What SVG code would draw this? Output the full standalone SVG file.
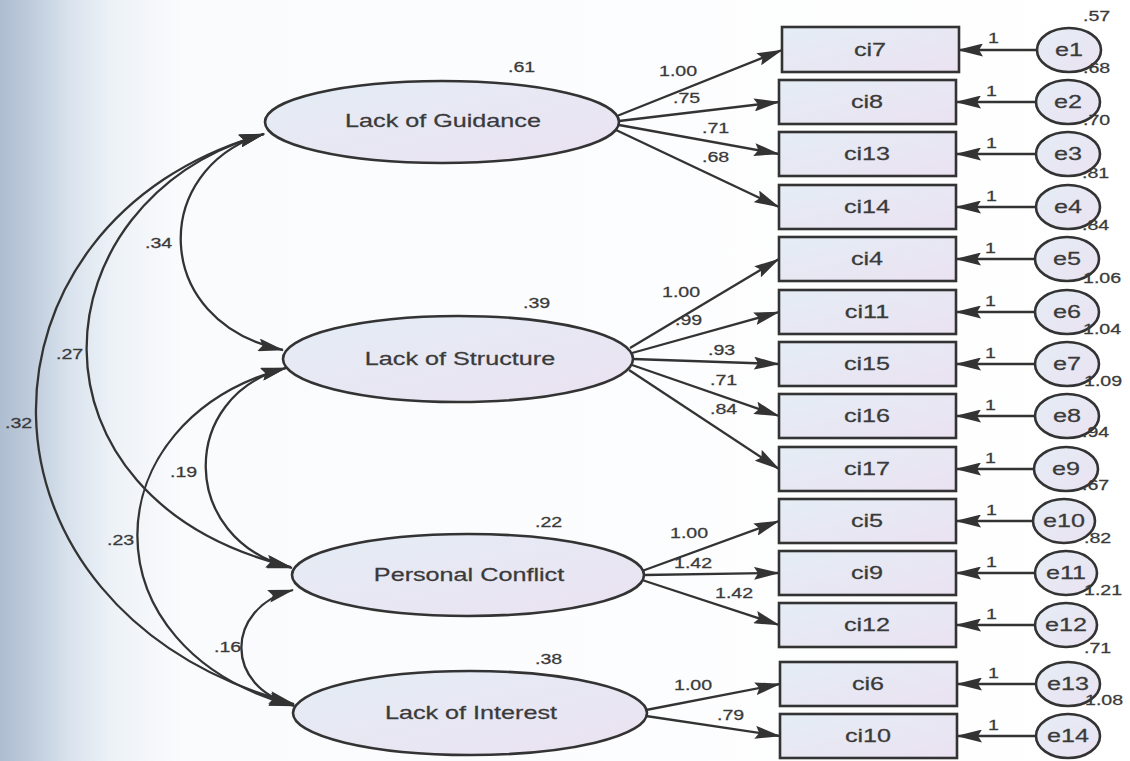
<svg xmlns="http://www.w3.org/2000/svg" width="1130" height="761" viewBox="0 0 1130 761">
  <defs>
    <linearGradient id="bg" x1="0" y1="0" x2="1" y2="0">
      <stop offset="0" stop-color="#aebdd0"/>
      <stop offset="0.025" stop-color="#bdcadb"/>
      <stop offset="0.06" stop-color="#d8e2ed"/>
      <stop offset="0.1" stop-color="#edf2f7"/>
      <stop offset="0.16" stop-color="#fafbfd"/>
      <stop offset="1" stop-color="#ffffff"/>
    </linearGradient>
    <linearGradient id="fillLat" x1="0" y1="0" x2="1" y2="1">
      <stop offset="0" stop-color="#e4edf5"/>
      <stop offset="1" stop-color="#ebe2f1"/>
    </linearGradient>
    <marker id="ah" markerWidth="26" markerHeight="13" refX="25" refY="6.5" orient="auto-start-reverse" markerUnits="userSpaceOnUse">
      <path d="M0,0 L26,6.5 L0,13 L4,6.5 z" fill="#333"/>
    </marker>
    <style>
      .lat { fill: url(#fillLat); stroke: #333; stroke-width: 2.6; }
      .obs { fill: url(#fillLat); stroke: #333; stroke-width: 2.6; }
      .err { fill: url(#fillLat); stroke: #333; stroke-width: 2.6; }
      .edge { fill: none; stroke: #333; stroke-width: 2.3; marker-end: url(#ah); }
      .cov { fill: none; stroke: #333; stroke-width: 2.3; marker-start: url(#ah); marker-end: url(#ah); }
      text { font-family: "Liberation Sans", Arial, sans-serif; fill: #3a3a3a; stroke: #3a3a3a; stroke-width: 0.25; }
      .lbl { font-size: 18px; text-anchor: middle; }
      .num { font-size: 14px; }
    </style>
  </defs>

  <rect x="0" y="0" width="1130" height="761" fill="url(#bg)"/>

  <!-- connectors -->
  <g id="connectors">
    <!-- covariances between factors -->
    <path class="cov" d="M264,134 C150,168 150,322 283,350"/>
    <path class="cov" d="M264,134 C33,200 13,500 291,567"/>
    <path class="cov" d="M264,134 C-40,220 -50,610 294,704"/>
    <path class="cov" d="M286,368 C178,395 178,540 292,568"/>
    <path class="cov" d="M286,368 C90,420 83,650 294,706"/>
    <path class="cov" d="M293,590 C224,608 224,688 294,705"/>

    <!-- loadings: Lack of Guidance -->
    <path class="edge" d="M617,116 L782,50"/>
    <path class="edge" d="M619,121 L779,102"/>
    <path class="edge" d="M619,125 L779,154"/>
    <path class="edge" d="M616,130 L779,207"/>
    <!-- loadings: Lack of Structure -->
    <path class="edge" d="M630,348 L779,259"/>
    <path class="edge" d="M632,353 L779,312"/>
    <path class="edge" d="M633,359 L779,364"/>
    <path class="edge" d="M632,365 L779,416"/>
    <path class="edge" d="M629,370 L779,469"/>
    <!-- loadings: Personal Conflict -->
    <path class="edge" d="M642,571 L779,521"/>
    <path class="edge" d="M644,575 L779,573"/>
    <path class="edge" d="M642,580 L779,625"/>
    <!-- loadings: Lack of Interest -->
    <path class="edge" d="M646,710 L780,684"/>
    <path class="edge" d="M646,716 L780,736"/>

    <!-- error terms -->
    <path class="edge" d="M1037,50 L958,50"/>
    <path class="edge" d="M1036,102 L956,102"/>
    <path class="edge" d="M1036,154 L956,154"/>
    <path class="edge" d="M1036,207 L956,207"/>
    <path class="edge" d="M1036,259 L956,259"/>
    <path class="edge" d="M1036,312 L956,312"/>
    <path class="edge" d="M1036,364 L956,364"/>
    <path class="edge" d="M1036,416 L956,416"/>
    <path class="edge" d="M1035,469 L956,469"/>
    <path class="edge" d="M1033,521 L956,521"/>
    <path class="edge" d="M1035,573 L956,573"/>
    <path class="edge" d="M1035,625 L956,625"/>
    <path class="edge" d="M1037,684 L957,684"/>
    <path class="edge" d="M1037,736 L957,736"/>
  </g>

  <!-- connector labels (covariances, loadings, fixed paths) -->
  <g id="edge-labels">
    <text class="num" transform="translate(145 248) scale(1.4 1)">.34</text>
    <text class="num" transform="translate(56 359) scale(1.4 1)">.27</text>
    <text class="num" transform="translate(5 428) scale(1.4 1)">.32</text>
    <text class="num" transform="translate(170 477) scale(1.4 1)">.19</text>
    <text class="num" transform="translate(107 545) scale(1.4 1)">.23</text>
    <text class="num" transform="translate(214 652) scale(1.4 1)">.16</text>

    <text class="num" transform="translate(659 76) scale(1.4 1)">1.00</text>
    <text class="num" transform="translate(673 103) scale(1.4 1)">.75</text>
    <text class="num" transform="translate(702 133) scale(1.4 1)">.71</text>
    <text class="num" transform="translate(702 162) scale(1.4 1)">.68</text>

    <text class="num" transform="translate(662 297) scale(1.4 1)">1.00</text>
    <text class="num" transform="translate(675 325) scale(1.4 1)">.99</text>
    <text class="num" transform="translate(708 355) scale(1.4 1)">.93</text>
    <text class="num" transform="translate(710 385) scale(1.4 1)">.71</text>
    <text class="num" transform="translate(710 414) scale(1.4 1)">.84</text>

    <text class="num" transform="translate(670 538) scale(1.4 1)">1.00</text>
    <text class="num" transform="translate(674 568) scale(1.4 1)">1.42</text>
    <text class="num" transform="translate(715 598) scale(1.4 1)">1.42</text>

    <text class="num" transform="translate(674 690) scale(1.4 1)">1.00</text>
    <text class="num" transform="translate(717 720) scale(1.4 1)">.79</text>

    <text class="num" transform="translate(988 43) scale(1.4 1)">1</text>
    <text class="num" transform="translate(986 96) scale(1.4 1)">1</text>
    <text class="num" transform="translate(986 148) scale(1.4 1)">1</text>
    <text class="num" transform="translate(986 201) scale(1.4 1)">1</text>
    <text class="num" transform="translate(985 253) scale(1.4 1)">1</text>
    <text class="num" transform="translate(985 306) scale(1.4 1)">1</text>
    <text class="num" transform="translate(985 358) scale(1.4 1)">1</text>
    <text class="num" transform="translate(985 410) scale(1.4 1)">1</text>
    <text class="num" transform="translate(985 463) scale(1.4 1)">1</text>
    <text class="num" transform="translate(986 515) scale(1.4 1)">1</text>
    <text class="num" transform="translate(986 567) scale(1.4 1)">1</text>
    <text class="num" transform="translate(986 619) scale(1.4 1)">1</text>
    <text class="num" transform="translate(988 678) scale(1.4 1)">1</text>
    <text class="num" transform="translate(988 730) scale(1.4 1)">1</text>
  </g>

  <!-- latent factors -->
  <g id="lack-of-guidance">
    <ellipse class="lat" cx="442" cy="122" rx="177" ry="41"/>
    <text class="lbl" transform="translate(443 127) scale(1.4 1)">Lack of Guidance</text>
    <text class="num" transform="translate(508 72) scale(1.4 1)">.61</text>
  </g>
  <g id="lack-of-structure">
    <ellipse class="lat" cx="458" cy="359" rx="175" ry="43"/>
    <text class="lbl" transform="translate(460 365) scale(1.4 1)">Lack of Structure</text>
    <text class="num" transform="translate(523 308) scale(1.4 1)">.39</text>
  </g>
  <g id="personal-conflict">
    <ellipse class="lat" cx="468" cy="575" rx="176" ry="41"/>
    <text class="lbl" transform="translate(469 581) scale(1.4 1)">Personal Conflict</text>
    <text class="num" transform="translate(535 527) scale(1.4 1)">.22</text>
  </g>
  <g id="lack-of-interest">
    <ellipse class="lat" cx="470" cy="713" rx="177" ry="42"/>
    <text class="lbl" transform="translate(471 719) scale(1.4 1)">Lack of Interest</text>
    <text class="num" transform="translate(535 664) scale(1.4 1)">.38</text>
  </g>

  <!-- observed items -->
  <g id="ci7"><rect class="obs" x="782" y="27" width="177" height="45"/><text class="lbl" transform="translate(870 56) scale(1.4 1)">ci7</text></g>
  <g id="ci8"><rect class="obs" x="779" y="80" width="177" height="44"/><text class="lbl" transform="translate(867 108) scale(1.4 1)">ci8</text></g>
  <g id="ci13"><rect class="obs" x="779" y="132" width="177" height="44"/><text class="lbl" transform="translate(867 160) scale(1.4 1)">ci13</text></g>
  <g id="ci14"><rect class="obs" x="779" y="185" width="177" height="44"/><text class="lbl" transform="translate(867 213) scale(1.4 1)">ci14</text></g>
  <g id="ci4"><rect class="obs" x="779" y="237" width="177" height="44"/><text class="lbl" transform="translate(867 265) scale(1.4 1)">ci4</text></g>
  <g id="ci11"><rect class="obs" x="779" y="290" width="177" height="44"/><text class="lbl" transform="translate(867 318) scale(1.4 1)">ci11</text></g>
  <g id="ci15"><rect class="obs" x="779" y="342" width="177" height="44"/><text class="lbl" transform="translate(867 370) scale(1.4 1)">ci15</text></g>
  <g id="ci16"><rect class="obs" x="779" y="394" width="177" height="44"/><text class="lbl" transform="translate(867 422) scale(1.4 1)">ci16</text></g>
  <g id="ci17"><rect class="obs" x="779" y="447" width="177" height="44"/><text class="lbl" transform="translate(867 475) scale(1.4 1)">ci17</text></g>
  <g id="ci5"><rect class="obs" x="779" y="499" width="177" height="44"/><text class="lbl" transform="translate(867 527) scale(1.4 1)">ci5</text></g>
  <g id="ci9"><rect class="obs" x="779" y="551" width="177" height="44"/><text class="lbl" transform="translate(867 579) scale(1.4 1)">ci9</text></g>
  <g id="ci12"><rect class="obs" x="779" y="603" width="177" height="44"/><text class="lbl" transform="translate(867 631) scale(1.4 1)">ci12</text></g>
  <g id="ci6"><rect class="obs" x="780" y="662" width="177" height="44"/><text class="lbl" transform="translate(868 690) scale(1.4 1)">ci6</text></g>
  <g id="ci10"><rect class="obs" x="780" y="714" width="177" height="44"/><text class="lbl" transform="translate(868 742) scale(1.4 1)">ci10</text></g>

  <!-- error terms with their variances -->
  <g id="e1"><ellipse class="err" cx="1069" cy="50" rx="32" ry="22"/><text class="lbl" transform="translate(1069 56) scale(1.4 1)">e1</text><text class="num" transform="translate(1083 21) scale(1.4 1)">.57</text></g>
  <g id="e2"><ellipse class="err" cx="1068" cy="102" rx="32" ry="22"/><text class="lbl" transform="translate(1068 108) scale(1.4 1)">e2</text><text class="num" transform="translate(1083 73) scale(1.4 1)">.68</text></g>
  <g id="e3"><ellipse class="err" cx="1068" cy="154" rx="32" ry="22"/><text class="lbl" transform="translate(1068 160) scale(1.4 1)">e3</text><text class="num" transform="translate(1083 125) scale(1.4 1)">.70</text></g>
  <g id="e4"><ellipse class="err" cx="1068" cy="207" rx="32" ry="22"/><text class="lbl" transform="translate(1068 213) scale(1.4 1)">e4</text><text class="num" transform="translate(1082 178) scale(1.4 1)">.81</text></g>
  <g id="e5"><ellipse class="err" cx="1067" cy="259" rx="32" ry="22"/><text class="lbl" transform="translate(1067 265) scale(1.4 1)">e5</text><text class="num" transform="translate(1082 230) scale(1.4 1)">.84</text></g>
  <g id="e6"><ellipse class="err" cx="1067" cy="312" rx="32" ry="22"/><text class="lbl" transform="translate(1067 318) scale(1.4 1)">e6</text><text class="num" transform="translate(1083 283) scale(1.4 1)">1.06</text></g>
  <g id="e7"><ellipse class="err" cx="1067" cy="364" rx="32" ry="22"/><text class="lbl" transform="translate(1067 370) scale(1.4 1)">e7</text><text class="num" transform="translate(1083 334) scale(1.4 1)">1.04</text></g>
  <g id="e8"><ellipse class="err" cx="1067" cy="416" rx="32" ry="22"/><text class="lbl" transform="translate(1067 422) scale(1.4 1)">e8</text><text class="num" transform="translate(1084 386) scale(1.4 1)">1.09</text></g>
  <g id="e9"><ellipse class="err" cx="1066" cy="469" rx="32" ry="22"/><text class="lbl" transform="translate(1066 475) scale(1.4 1)">e9</text><text class="num" transform="translate(1082 437) scale(1.4 1)">.94</text></g>
  <g id="e10"><ellipse class="err" cx="1064" cy="521" rx="31" ry="22"/><text class="lbl" transform="translate(1064 527) scale(1.4 1)">e10</text><text class="num" transform="translate(1082 490) scale(1.4 1)">.67</text></g>
  <g id="e11"><ellipse class="err" cx="1066" cy="573" rx="31" ry="22"/><text class="lbl" transform="translate(1066 579) scale(1.4 1)">e11</text><text class="num" transform="translate(1084 543) scale(1.4 1)">.82</text></g>
  <g id="e12"><ellipse class="err" cx="1066" cy="625" rx="31" ry="22"/><text class="lbl" transform="translate(1066 631) scale(1.4 1)">e12</text><text class="num" transform="translate(1084 595) scale(1.4 1)">1.21</text></g>
  <g id="e13"><ellipse class="err" cx="1068" cy="684" rx="32" ry="22"/><text class="lbl" transform="translate(1068 690) scale(1.4 1)">e13</text><text class="num" transform="translate(1084 653) scale(1.4 1)">.71</text></g>
  <g id="e14"><ellipse class="err" cx="1068" cy="736" rx="32" ry="22"/><text class="lbl" transform="translate(1068 742) scale(1.4 1)">e14</text><text class="num" transform="translate(1085 705) scale(1.4 1)">1.08</text></g>
</svg>
